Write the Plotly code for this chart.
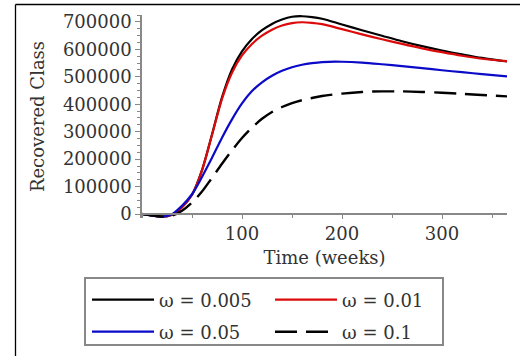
import plotly.graph_objects as go

# Time (weeks)
t = [0, 10, 20, 30, 40, 50, 60, 70, 80, 90, 100, 110, 120, 130, 140, 150, 160,
     170, 180, 200, 220, 240, 260, 280, 300, 320, 340, 365]

r_w0005 = [0, -6000, -10000, -3000, 25000, 70000, 160000, 290000, 425000, 527000,
           593000, 638000, 670000, 693000, 709000, 719000, 721000, 718000, 712000,
           691000, 670000, 650000, 630000, 612000, 596000, 582000, 569000, 556000]
r_w001 = [0, -6000, -10000, -3000, 25000, 70000, 159000, 288000, 420000, 515000,
          578000, 620000, 650000, 672000, 687000, 696000, 699000, 697000, 692000,
          674000, 655000, 637000, 620000, 604000, 590000, 577000, 566000, 557000]
r_w005 = [0, -6000, -10000, -1000, 30000, 72000, 135000, 205000, 278000, 345000,
          403000, 448000, 480000, 504000, 522000, 535000, 544000, 550000, 554000,
          555000, 552000, 546000, 539000, 532000, 524000, 517000, 510000, 502000]
r_w01 = [0, -5000, -9000, -6000, 12000, 42000, 82000, 132000, 183000, 232000,
         277000, 315000, 347000, 372000, 390000, 404000, 415000, 423000, 430000,
         439000, 445000, 447000, 447000, 445000, 442000, 438000, 434000, 429000]

names = ["ω = 0.005", "ω = 0.01", "ω = 0.05", "ω = 0.1"]
y_ticks = [0, 100000, 200000, 300000, 400000, 500000, 600000, 700000]
x_ticks = [100, 200, 300]

FONT = "DejaVu Serif"
W, H = 520, 356
L, R, T, B = 142, 13, 15, 138
pw, ph = W - L - R, H - T - B


def px2x(px):
    return (px - L) / pw


def px2y(py):
    return (H - B - py) / ph


fig = go.Figure()
styles = [
    dict(color="black", width=2.2),
    dict(color="rgb(220,10,10)", width=2.2),
    dict(color="rgb(10,10,200)", width=2.2),
    dict(color="black", width=2.4, dash="22px,9px"),
]
legends = ["legend", "legend", "legend2", "legend2"]
for name, ys, st, lg in zip(names, [r_w0005, r_w001, r_w005, r_w01], styles, legends):
    fig.add_trace(go.Scatter(x=t, y=ys, mode="lines", name=name, legend=lg,
                             line=dict(shape="spline", smoothing=0.9, **st)))

leg_common = dict(
    orientation="h", xanchor="left", yanchor="middle",
    borderwidth=0, itemwidth=62, entrywidth=106,
    font=dict(family=FONT, size=18, color="#333"),
    bgcolor="rgba(0,0,0,0)",
)

fig.update_layout(
    template="none",
    width=W, height=H, autosize=False,
    margin=dict(l=L, r=R, t=T, b=B, autoexpand=False),
    paper_bgcolor="white", plot_bgcolor="white",
    font=dict(family=FONT, size=18, color="#333"),
    showlegend=True,
    legend=dict(x=px2x(87), y=px2y(300), **leg_common),
    legend2=dict(x=px2x(87), y=px2y(332), **leg_common),
    xaxis=dict(
        range=[0, 365], anchor="free", position=px2y(214), automargin=False,
        tickvals=x_ticks, ticks="outside", ticklen=4, tickcolor="#888",
        showline=True, linecolor="#888", linewidth=1.5,
        showgrid=False, zeroline=False,
        minor=dict(dtick=50, tick0=0, ticks="outside", ticklen=3, tickcolor="#888"),
        title=dict(text="Time (weeks)", font=dict(family=FONT, size=18, color="#333"), standoff=7),
    ),
    yaxis=dict(
        range=[-14600, 725500], automargin=False,
        tickvals=y_ticks, tickformat="d", ticks="outside", ticklen=5, tickcolor="#888",
        showline=True, linecolor="#888", linewidth=1.5,
        showgrid=False, zeroline=False,
        minor=dict(dtick=25000, tick0=0, ticks="outside", ticklen=3, tickcolor="#888"),
        title=dict(text="Recovered Class", font=dict(family=FONT, size=18, color="#333"), standoff=14),
    ),
)

# outer frame (left and top edges)
fig.add_shape(type="line", xref="paper", yref="paper",
              x0=px2x(15.5), x1=px2x(15.5), y0=px2y(4.5), y1=px2y(356),
              line=dict(color="black", width=1.3))
fig.add_shape(type="line", xref="paper", yref="paper",
              x0=px2x(15.5), x1=px2x(520), y0=px2y(4.5), y1=px2y(4.5),
              line=dict(color="black", width=1.3))
# legend box
fig.add_shape(type="rect", xref="paper", yref="paper",
              x0=px2x(85), x1=px2x(443), y0=px2y(278), y1=px2y(345),
              line=dict(color="#888", width=2), fillcolor="rgba(0,0,0,0)")

fig.write_html("out.html", config={"displayModeBar": False},
               post_script="document.body.style.margin='0';")
